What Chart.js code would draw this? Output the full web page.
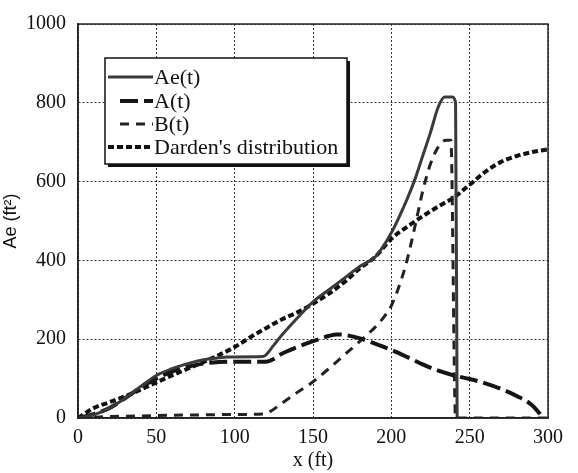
<!DOCTYPE html>
<html>
<head>
<meta charset="utf-8">
<script src="https://cdn.jsdelivr.net/npm/chart.js@4"></script>
<style>
  body { margin: 0; background: #fff; }
  canvas { display: block; }
</style>
</head>
<body>
<canvas id="chart" width="578" height="473"></canvas>
<script>
// values
const aeX = [0, 10, 20, 30, 40, 50, 60, 70, 80, 90, 95, 118, 125, 130, 140, 150, 160, 170, 180, 190, 200, 210, 215, 220, 225, 230, 234, 239, 241, 242];
const aeY = [0, 8, 25, 50, 80, 108, 125, 138, 148, 153, 155, 156, 185, 210, 254, 295, 325, 355, 385, 410, 470, 555, 605, 665, 725, 790, 815, 815, 800, 0];

const aX = [0, 10, 20, 30, 40, 50, 60, 70, 80, 90, 95, 120, 125, 130, 140, 150, 160, 165, 170, 180, 190, 200, 210, 220, 230, 240, 250, 260, 270, 280, 290, 297];
const aY = [0, 10, 25, 50, 78, 100, 118, 130, 138, 142, 143, 143, 150, 163, 180, 195, 208, 212, 211, 202, 188, 173, 155, 136, 120, 108, 99, 88, 74, 56, 32, 0];

const bX = [0, 10, 20, 40, 60, 80, 100, 118, 122, 130, 140, 150, 160, 170, 180, 190, 195, 200, 205, 210, 215, 220, 225, 230, 235, 238, 241, 245, 300];
const bY = [0, 2, 4, 5, 7, 8, 9, 10, 15, 37, 65, 92, 125, 160, 195, 232, 255, 285, 335, 400, 485, 575, 645, 688, 705, 705, 0, 0, 0];

const dardenX = [0, 10, 20, 30, 40, 50, 60, 70, 80, 90, 100, 110, 120, 130, 140, 150, 160, 170, 180, 190, 200, 210, 220, 230, 240, 250, 260, 270, 280, 290, 300];
const dardenY = [0, 25, 40, 55, 72, 90, 108, 125, 142, 160, 180, 205, 228, 250, 268, 290, 315, 345, 380, 410, 455, 485, 512, 537, 560, 592, 625, 650, 665, 675, 682];

const seriesNames = ["Ae(t)", "A(t)", "B(t)", "Darden's distribution"];
const xTicks = [0, 50, 100, 150, 200, 250, 300];
const yTicks = [0, 200, 400, 600, 800, 1000];

function pts(xs, ys) {
  return xs.map((x, i) => ({ x: x, y: ys[i] }));
}

const serif = "'Liberation Serif', 'Times New Roman', serif";

const styles = [
  { color: "#3a3a3a", width: 3, dash: [] },
  { color: "#151515", width: 4, dash: [18, 6] },
  { color: "#222", width: 3, dash: [9, 7] },
  { color: "#111", width: 4, dash: [6, 3] },
];

const datasets = [pts(aeX, aeY), pts(aX, aY), pts(bX, bY), pts(dardenX, dardenY)].map((d, i) => ({
  label: seriesNames[i],
  data: d,
  showLine: true,
  borderColor: styles[i].color,
  borderWidth: styles[i].width,
  borderDash: styles[i].dash,
  pointRadius: 0,
  cubicInterpolationMode: "monotone",
  fill: false,
}));

// solid frame round the plot area
const frame = {
  id: "frame",
  afterDatasetsDraw(chart) {
    const a = chart.chartArea, ctx = chart.ctx;
    ctx.save();
    ctx.strokeStyle = "#222";
    ctx.lineWidth = 1.5;
    ctx.strokeRect(a.left, a.top, a.right - a.left, a.bottom - a.top);
    ctx.restore();
  },
};

// boxed legend inside the plot, like the figure
const boxLegend = {
  id: "boxLegend",
  afterDraw(chart) {
    const ctx = chart.ctx;
    const left = 105, top = 58, w = 242, h = 106;
    ctx.save();
    ctx.fillStyle = "#111";
    ctx.fillRect(left + 3, top + 3, w, h);
    ctx.fillStyle = "#fff";
    ctx.fillRect(left, top, w, h);
    ctx.strokeStyle = "#111";
    ctx.lineWidth = 1.5;
    ctx.strokeRect(left, top, w, h);
    ctx.font = "22px " + serif;
    ctx.textBaseline = "middle";
    const rows = [77, 101, 124, 147];
    const starts = [108, 120, 120, 108];
    chart.data.datasets.forEach((ds, i) => {
      ctx.strokeStyle = ds.borderColor;
      ctx.lineWidth = ds.borderWidth;
      ctx.setLineDash(ds.borderDash);
      ctx.beginPath();
      ctx.moveTo(starts[i], rows[i]);
      ctx.lineTo(153, rows[i]);
      ctx.stroke();
      ctx.setLineDash([]);
      ctx.fillStyle = "#111";
      ctx.fillText(ds.label, 154, rows[i] + 1);
    });
    ctx.restore();
  },
};

new Chart(document.getElementById("chart"), {
  type: "scatter",
  data: { datasets: datasets },
  plugins: [frame, boxLegend],
  options: {
    responsive: false,
    animation: false,
    layout: { padding: { top: 13, right: 30, left: 0, bottom: 0 } },
    plugins: { legend: { display: false }, tooltip: { enabled: false } },
    scales: {
      x: {
        type: "linear",
        min: 0,
        max: 300,
        afterBuildTicks: (axis) => { axis.ticks = xTicks.map((v) => ({ value: v })); },
        afterFit: (axis) => { axis.height = 55; },
        ticks: { color: "#111", font: { family: serif, size: 20 }, padding: 8, callback: (v) => String(v) },
        grid: { color: "#333", lineWidth: 1, drawTicks: false },
        border: { color: "#222", width: 1.5, dash: [2, 2] },
        title: { display: true, text: "x (ft)", color: "#111", font: { family: serif, size: 20 }, padding: { top: -4, bottom: 0 } },
      },
      y: {
        type: "linear",
        min: 0,
        max: 1000,
        afterBuildTicks: (axis) => { axis.ticks = yTicks.map((v) => ({ value: v })); },
        afterFit: (axis) => { axis.width = 78; },
        ticks: { color: "#111", font: { family: serif, size: 20 }, padding: 12, callback: (v) => String(v) },
        grid: { color: "#333", lineWidth: 1, drawTicks: false },
        border: { color: "#222", width: 1.5, dash: [2, 2] },
        title: { display: true, text: "Ae (ft²)", color: "#111", font: { family: "'Liberation Sans', Arial, sans-serif", size: 18 }, padding: { top: 0, bottom: 4 } },
      },
    },
  },
});
</script>
</body>
</html>
